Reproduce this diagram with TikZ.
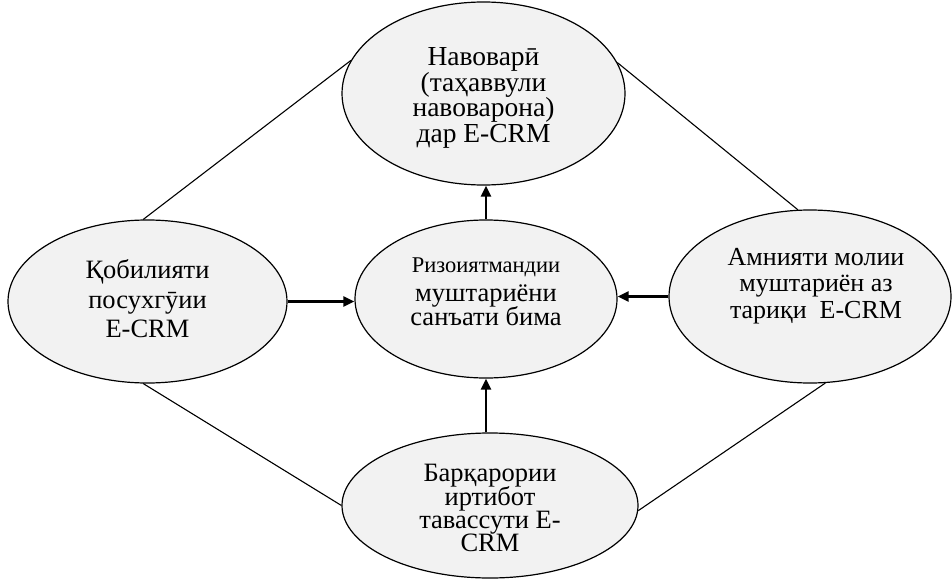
\documentclass[tikz,border=0pt]{standalone}
\usepackage{fontspec}
\setmainfont{Liberation Serif}
\usetikzlibrary{shapes.geometric,arrows.meta}
\definecolor{ellfill}{HTML}{F2F2F2}
\tikzset{
  ell/.style={ellipse, draw=black, line width=1.2pt, fill=ellfill, inner sep=0pt},
  txt/.style={align=center, inner sep=0pt, text=black},
  conn/.style={line width=1.1pt, draw=black},
  arr/.style={line width=2.2pt, draw=black, -{Triangle[length=11pt,width=10pt]}}
}
\newcommand{\fsz}[2]{\fontsize{#1}{#2}\selectfont\lineskiplimit=-60pt\lineskip=0pt}
\begin{document}
\begin{tikzpicture}[x=1pt,y=-1pt]
\useasboundingbox (0,0) rectangle (952,580);
% ellipses
\node[ell, minimum width=283pt, minimum height=183pt] (t) at (483.5,93.5) {};
\node[ell, minimum width=279pt, minimum height=163pt] (l) at (147.5,301.5) {};
\node[ell, minimum width=262pt, minimum height=158pt] (c) at (486,299) {};
\node[ell, minimum width=282pt, minimum height=173pt] (r) at (810,296.5) {};
\node[ell, minimum width=296pt, minimum height=145pt] (b) at (490,505.5) {};
% texts
\node[txt, font=\fsz{27.5}{25.5}] (tt) at ([yshift=-4.4pt]t.center)
  {Навоварӣ\\(таҳаввули\\навоварона)\\дар E-CRM};
\node[txt, font=\fsz{26.5}{29.5}] (lt) at ([yshift=2.75pt]l.center)
  {Қобилияти\\посухгӯии\\E-CRM};
\node[txt, font=\fsz{26.5}{24}] (ct) at ([yshift=7pt]c.center)
  {{\fsz{22.5}{24}Ризоиятмандии}\\[5pt]муштариёни\\санъати бима};
\node[txt, font=\fsz{26}{26.5}] (rt) at ([xshift=6pt,yshift=10.7pt]r.center)
  {Амнияти молии\\муштариён аз\\тариқи\ \ E-CRM};
\node[txt, font=\fsz{26.5}{23.3}] (bt) at ([yshift=-2.75pt]b.center)
  {Барқарории\\иртибот\\тавассути E-\\CRM};
% plain connectors
\draw[conn] (l.93) -- (t.166.6);
\draw[conn] (t.13.3) -- (r.98.6);
\draw[conn] (l.267) -- (b.180);
\draw[conn] (b.-2.5) -- (r.-80);
% arrows
\draw[arr] (c.north) -- (c.north |- t.south);
\draw[arr] (b.north -| c.south) -- (c.south);
\draw[arr] (l.east) -- (l.east -| c.west);
\draw[arr] (r.west) -- (r.west -| c.east);
\end{tikzpicture}
\end{document}
